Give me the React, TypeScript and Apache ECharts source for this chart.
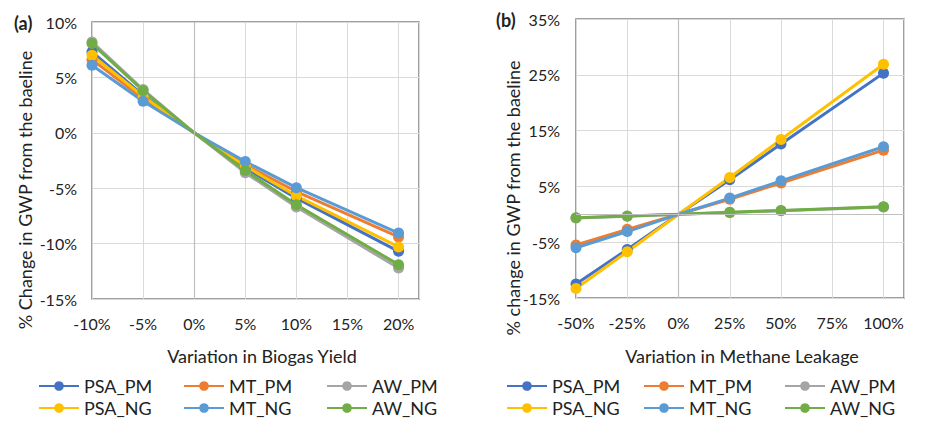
import React, { useEffect, useRef } from "react";
import * as echarts from "echarts";

const SERIES_NAMES = ["PSA_PM", "MT_PM", "AW_PM", "PSA_NG", "MT_NG", "AW_NG"];
const COLORS = ["#4472C4", "#ED7D31", "#A5A5A5", "#FFC000", "#5B9BD5", "#70AD47"];

// Chart (a): Variation in Biogas Yield
const X_A = [-10, -5, 0, 5, 10, 20];
const A_PSA_PM = [7.3, 3.4, 0, -3.2, -5.9, -10.7];
const A_MT_PM = [6.6, 3.1, 0, -2.9, -5.3, -9.4];
const A_AW_PM = [8.2, 3.9, 0, -3.6, -6.7, -12.2];
const A_PSA_NG = [7.0, 3.3, 0, -3.0, -5.7, -10.3];
const A_MT_NG = [6.1, 2.85, 0, -2.6, -4.95, -9.05];
const A_AW_NG = [8.05, 3.8, 0, -3.4, -6.5, -11.9];

// Chart (b): Variation in Methane Leakage
const X_B = [-50, -25, 0, 25, 50, 100];
const B_PSA_PM = [-12.5, -6.3, 0, 6.2, 12.6, 25.3];
const B_MT_PM = [-5.5, -2.7, 0, 2.7, 5.6, 11.5];
const B_AW_PM = [-0.65, -0.35, 0, 0.3, 0.65, 1.3];
const B_PSA_NG = [-13.3, -6.7, 0, 6.6, 13.4, 26.9];
const B_MT_NG = [-6.0, -3.1, 0, 2.9, 6.0, 12.1];
const B_AW_NG = [-0.6, -0.3, 0, 0.35, 0.7, 1.35];

const A_VALUES = [A_PSA_PM, A_MT_PM, A_AW_PM, A_PSA_NG, A_MT_NG, A_AW_NG];
const B_VALUES = [B_PSA_PM, B_MT_PM, B_AW_PM, B_PSA_NG, B_MT_NG, B_AW_NG];

const TITLE_A = "Variation in Biogas Yield";
const TITLE_B = "Variation in Methane Leakage";
const YNAME_A = "% Change in GWP from the baeline";
const YNAME_B = "% change in GWP from the baeline";

const FONT = "Lato, 'Open Sans', sans-serif";
const TEXT = "#222222";
const FS_TICK = 16;
const FS = 18;

export default function App() {
  const ref = useRef<HTMLDivElement>(null);

  useEffect(() => {
    if (!ref.current) return;
    const chart = echarts.init(ref.current, undefined, { renderer: "svg" });

    const labelStyle = { fontSize: FS_TICK, fontFamily: FONT, color: TEXT };
    const split = { show: true, lineStyle: { color: "#d9d9d9", width: 1 } };

    const makeSeries = (xs: number[], vals: number[][], idx: number) =>
      vals.map((v, i) => ({
        name: SERIES_NAMES[i],
        type: "line",
        xAxisIndex: idx,
        yAxisIndex: idx,
        data: xs.map((x, j) =>
          x === 0 ? { value: [x, v[j]], symbol: "none" } : { value: [x, v[j]] }
        ),
        symbol: "circle",
        symbolSize: 11,
        lineStyle: { width: 3, color: COLORS[i] },
        itemStyle: { color: COLORS[i] },
        z: 3,
      }));

    const zeroSeries = (idx: number, lines: any[]) => ({
      name: "zero" + idx,
      type: "line",
      xAxisIndex: idx,
      yAxisIndex: idx,
      data: [[0, 0]],
      symbol: "none",
      lineStyle: { opacity: 0 },
      z: 1,
      markLine: {
        silent: true,
        symbol: "none",
        label: { show: false },
        lineStyle: { color: "#bfbfbf", width: 1.2, type: "solid" },
        data: lines,
      },
    });

    const legendPos = [{ x: [38, 183, 326] }, { x: [506, 643, 784] }];
    const legends: any[] = [];
    legendPos.forEach((lp) => {
      SERIES_NAMES.forEach((n, i) => {
        legends.push({
          data: [n],
          left: lp.x[i % 3],
          top: i < 3 ? 377 : 399,
          itemWidth: 40,
          itemHeight: 12,
          itemGap: 0,
          padding: 0,
          selectedMode: false,
          textStyle: { fontSize: FS, fontFamily: FONT, color: TEXT },
        });
      });
    });

    const option: any = {
      animation: false,
      backgroundColor: "#ffffff",
      grid: [
        { left: 92, top: 22, width: 327, height: 277, show: true, borderColor: "#808080", borderWidth: 1.5 },
        { left: 576, top: 19, width: 328, height: 279, show: true, borderColor: "#808080", borderWidth: 1.5 },
      ],
      xAxis: [
        {
          gridIndex: 0,
          type: "value",
          min: -10,
          max: 22,
          interval: 5,
          axisLine: { show: false },
          axisTick: { show: false },
          axisLabel: { ...labelStyle, margin: 16, formatter: (v: number) => (v > 20 ? "" : v + "%") },
          splitLine: split,
        },
        {
          gridIndex: 1,
          type: "value",
          min: -50,
          max: 110,
          interval: 25,
          axisLine: { show: false },
          axisTick: { show: false },
          axisLabel: { ...labelStyle, margin: 16, formatter: (v: number) => (v > 100 ? "" : v + "%") },
          splitLine: split,
        },
      ],
      yAxis: [
        {
          gridIndex: 0,
          type: "value",
          min: -15,
          max: 10,
          interval: 5,
          axisLine: { show: false },
          axisTick: { show: false },
          axisLabel: { ...labelStyle, margin: 15, formatter: (v: number) => v + "%" },
          splitLine: split,
        },
        {
          gridIndex: 1,
          type: "value",
          min: -15,
          max: 35,
          interval: 10,
          axisLine: { show: false },
          axisTick: { show: false },
          axisLabel: { ...labelStyle, margin: 16, formatter: (v: number) => v + "%" },
          splitLine: split,
        },
      ],
      legend: legends,
      series: [
        zeroSeries(0, [{ xAxis: 0 }]),
        zeroSeries(1, [{ xAxis: 0 }, { yAxis: 0 }]),
        ...makeSeries(X_A, A_VALUES, 0),
        ...makeSeries(X_B, B_VALUES, 1),
      ],
      graphic: [
        { type: "text", x: 14, y: 23, style: { text: "(a)", fontSize: FS, fontWeight: "bold", fontFamily: FONT, fill: TEXT, align: "left", verticalAlign: "middle" } },
        { type: "text", x: 496, y: 20, style: { text: "(b)", fontSize: FS, fontWeight: "bold", fontFamily: FONT, fill: TEXT, align: "left", verticalAlign: "middle" } },
        { type: "text", x: 262, y: 356, style: { text: TITLE_A, fontSize: FS, fontFamily: FONT, fill: TEXT, align: "center", verticalAlign: "middle" } },
        { type: "text", x: 742, y: 356, style: { text: TITLE_B, fontSize: FS, fontFamily: FONT, fill: TEXT, align: "center", verticalAlign: "middle" } },
        { type: "text", x: 25, y: 190, rotation: Math.PI / 2, style: { text: YNAME_A, fontSize: FS, fontFamily: FONT, fill: TEXT, align: "center", verticalAlign: "middle" } },
        { type: "text", x: 513, y: 198, rotation: Math.PI / 2, style: { text: YNAME_B, fontSize: FS, fontFamily: FONT, fill: TEXT, align: "center", verticalAlign: "middle" } },
      ],
    };

    chart.setOption(option);
    return () => chart.dispose();
  }, []);

  return (
    <div
      ref={ref}
      style={{ position: "fixed", left: 0, top: 0, width: 944, height: 426, background: "#fff" }}
    />
  );
}
